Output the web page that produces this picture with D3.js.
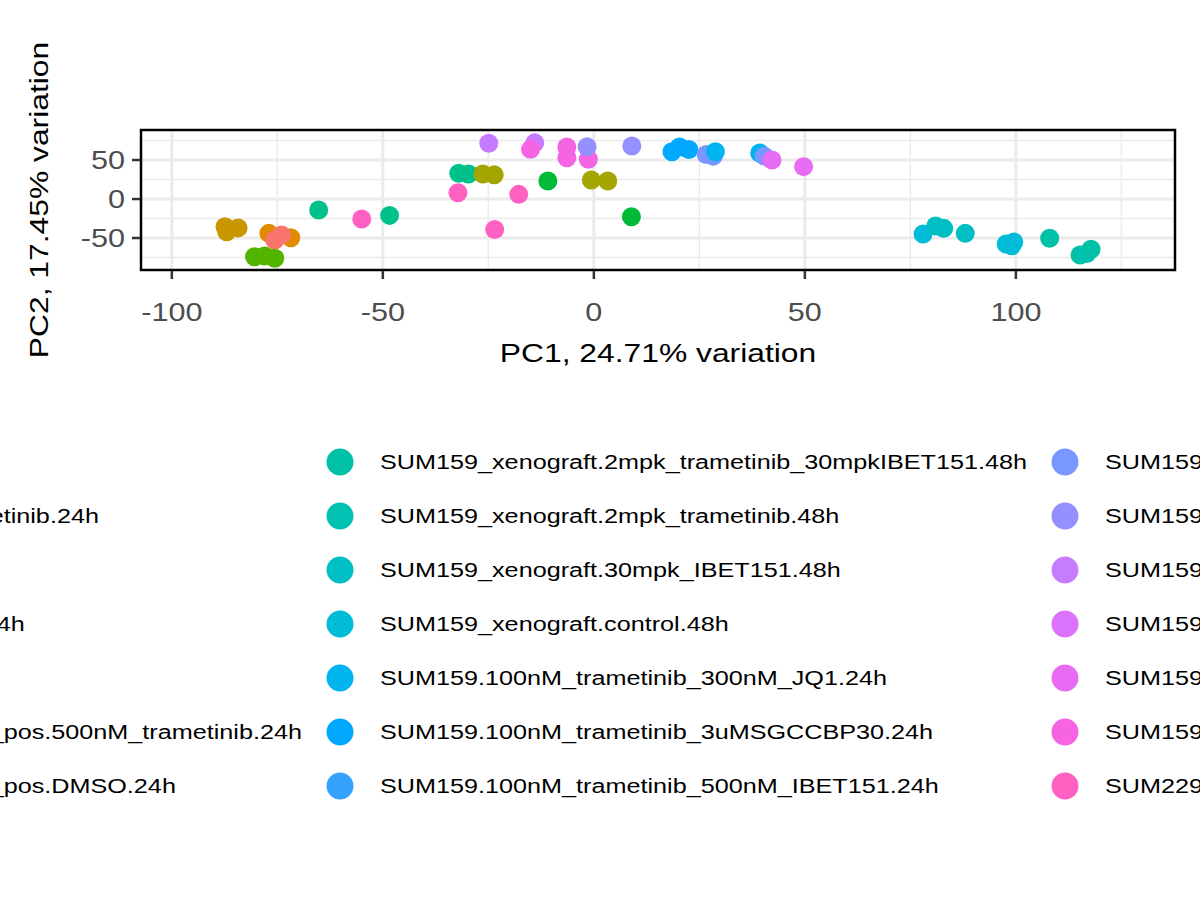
<!DOCTYPE html>
<html>
<head>
<meta charset="utf-8">
<script src="https://cdn.jsdelivr.net/npm/d3@7"></script>
<style>
  body { margin: 0; background: #fff; }
  svg { font-family: "Liberation Sans", Arial, sans-serif; }
</style>
</head>
<body>
<svg id="chart" width="1200" height="900"></svg>
<script>
const width = 1200;
const height = 900;

// legend groups (column-wise, 7 per column; first column sits off the left edge)
const groupNames = [
  "SUM149.DMSO.24h",
  "SUM149.1uJQ1_500nM_trametinib.24h",
  "SUM149.IBET151.24h",
  "SUM159.2000nM_trametinib.24h",
  "SUM159.DMSO.72h",
  "SUM159_clone_HER2_ALDH_pos.500nM_trametinib.24h",
  "SUM159_clone_HER2_ALDH_pos.DMSO.24h",
  "SUM159_xenograft.2mpk_trametinib_30mpkIBET151.48h",
  "SUM159_xenograft.2mpk_trametinib.48h",
  "SUM159_xenograft.30mpk_IBET151.48h",
  "SUM159_xenograft.control.48h",
  "SUM159.100nM_trametinib_300nM_JQ1.24h",
  "SUM159.100nM_trametinib_3uMSGCCBP30.24h",
  "SUM159.100nM_trametinib_500nM_IBET151.24h",
  "SUM159.100nM_trametinib.24h",
  "SUM159.300nM_JQ1.24h",
  "SUM159.3uM_SGCCBP30.24h",
  "SUM159.500nM_IBET151.24h",
  "SUM159.500nM_trametinib.72h",
  "SUM159.DMSO.24h",
  "SUM229.DMSO.24h"
];
const groupColors = [
  "#F8766D", "#E08B00", "#C99800", "#A3A500", "#53B400", "#00BA38", "#00C08B",
  "#00C0A6", "#00C1B2", "#00BFC4", "#00BCD8", "#00B4EF", "#00A9FF", "#35A2FF",
  "#7997FF", "#9590FF", "#C77CFF", "#DB72FB", "#E76BF3", "#F564E3", "#FF61C3"
];

// PCA scores
const pc1 = [-87.4, -87, -84.3, -77, -71.8, -75.6, -74, -80.4, -78, -75.6,
  -65.2, -48.4, -55, -23.5, -32, -29.7, -26.3, -23.6, -0.6, 3.3,
  -24.9, -14, -15, -6.4, -6.4, -1.3, -32.2, -17.8, -10.9, 8.9,
  -1.6, 9, 18.5, 20.3, 22.5, 26.6, 28.3, 28.8, 39.3, 40.4,
  42.2, 49.7, 78, 81, 82.9, 88, 97.7, 99.5, 99, 108, 115.2, 116.8, 117.8];
const pc2 = [-35.5, -42, -37, -44, -49.6, -52.6, -46, -74, -73, -76,
  -14, -21, -25.6, -39, 33, 32, 32, 31, 24.4, 23,
  71.4, 72, 63.7, 66.6, 53, 51, 8, 6, 23, -22.7,
  67, 68, 60.6, 66.6, 63.6, 57, 55, 60.6, 59, 55,
  50, 41.5, -45, -34.6, -37.6, -44, -57.7, -55, -60, -50.4, -71.8, -70, -64.5];
const group = [2, 2, 2, 1, 1, 0, 0, 4, 4, 4,
  6, 6, 20, 20, 6, 6, 3, 3, 3, 3,
  16, 16, 19, 19, 19, 19, 20, 20, 5, 5,
  15, 15, 12, 12, 12, 14, 14, 11, 11, 14,
  18, 18, 10, 9, 9, 9, 10, 10, 10, 7, 7, 8, 7];

const xTicks = [-100, -50, 0, 50, 100];
const yTicks = [-50, 0, 50];

const points = pc1.map((x, i) => ({x: x, y: pc2[i], g: group[i]}));

const m = {left: 141, right: 1175, top: 130, bottom: 270};
const svg = d3.select("#chart");
const stretch = 1.2; // reference text is rendered wide

const x = d3.scaleLinear().domain([-107.3, 137.7]).range([m.left, m.right]);
const y = d3.scaleLinear().domain([-91, 88.5]).range([m.bottom, m.top]);

const grid = svg.append("g");
[-75, -25, 25, 75, 125].forEach(v => grid.append("line")
  .attr("x1", x(v)).attr("x2", x(v)).attr("y1", m.top).attr("y2", m.bottom)
  .attr("stroke", "#EBEBEB").attr("stroke-width", 1.5));
[-75, -25, 25, 75].forEach(v => grid.append("line")
  .attr("y1", y(v)).attr("y2", y(v)).attr("x1", m.left).attr("x2", m.right)
  .attr("stroke", "#EBEBEB").attr("stroke-width", 1.5));
xTicks.forEach(v => grid.append("line")
  .attr("x1", x(v)).attr("x2", x(v)).attr("y1", m.top).attr("y2", m.bottom)
  .attr("stroke", "#EBEBEB").attr("stroke-width", 3));
yTicks.forEach(v => grid.append("line")
  .attr("y1", y(v)).attr("y2", y(v)).attr("x1", m.left).attr("x2", m.right)
  .attr("stroke", "#EBEBEB").attr("stroke-width", 3));

svg.append("g").selectAll("circle")
  .data(points)
  .join("circle")
  .attr("cx", d => x(d.x))
  .attr("cy", d => y(d.y))
  .attr("r", 9.5)
  .attr("fill", d => groupColors[d.g]);

svg.append("rect")
  .attr("x", m.left).attr("y", m.top)
  .attr("width", m.right - m.left).attr("height", m.bottom - m.top)
  .attr("fill", "none").attr("stroke", "#000").attr("stroke-width", 2.5);

// stretched text helper
function label(g, tx, ty, str, size, anchor, rot) {
  return g.append("text")
    .attr("transform", `translate(${tx},${ty})` + (rot ? ` rotate(${rot})` : "") + ` scale(${stretch},1)`)
    .attr("text-anchor", anchor || "start")
    .attr("font-size", size)
    .text(str);
}

const fmt = v => String(v); // plain hyphen minus like the reference
const axG = svg.append("g");
xTicks.forEach(v => {
  axG.append("line").attr("x1", x(v)).attr("x2", x(v))
    .attr("y1", m.bottom + 1).attr("y2", m.bottom + 9)
    .attr("stroke", "#333").attr("stroke-width", 2.5);
  label(axG, x(v), 321, fmt(v), 25.5, "middle").attr("fill", "#4D4D4D");
});
yTicks.forEach(v => {
  axG.append("line").attr("x1", m.left - 9).attr("x2", m.left - 1)
    .attr("y1", y(v)).attr("y2", y(v))
    .attr("stroke", "#333").attr("stroke-width", 2.5);
  label(axG, m.left - 16, y(v) + 9, fmt(v), 25.5, "end").attr("fill", "#4D4D4D");
});

label(svg, 658, 362, "PC1, 24.71% variation", 26.5, "middle");
label(svg, 48, 200, "PC2, 17.45% variation", 26.5, "middle", -90);

// legend
const leg = svg.append("g");
groupNames.forEach((name, i) => {
  const col = Math.floor(i / 7), row = i % 7;
  const cx = -385 + col * 725, cy = 462 + row * 54;
  leg.append("circle").attr("cx", cx).attr("cy", cy).attr("r", 13.5)
    .attr("fill", groupColors[i]);
  label(leg, cx + 40, cy + 7, name, 21);
});
</script>
</body>
</html>
